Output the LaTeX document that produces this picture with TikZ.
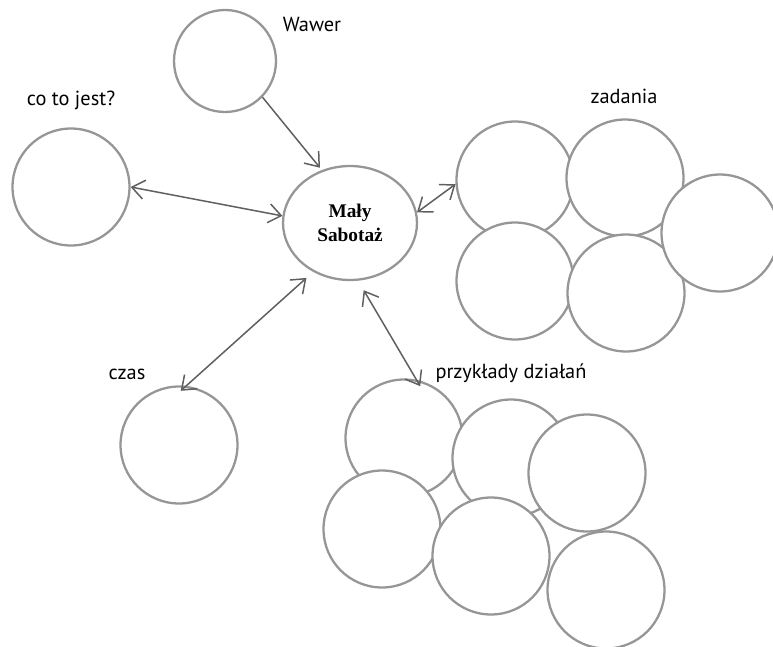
\documentclass[tikz,border=0pt]{standalone}
\usepackage{fontspec}
\setmainfont{PT Sans}
\newfontfamily\hubfont{Liberation Serif}
\usepackage{tikz}
\usetikzlibrary{arrows.meta,shapes.geometric}
\definecolor{ringgray}{RGB}{150,150,150}
\definecolor{linkgray}{RGB}{95,95,95}
\tikzset{
  bubble/.style={circle, draw=ringgray, line width=1.3pt, fill=white, minimum size=2.34cm, inner sep=0pt},
  hub/.style={ellipse, draw=ringgray, line width=1.3pt, fill=white, minimum width=2.68cm, minimum height=2.28cm, inner sep=0pt, align=center, font=\hubfont\bfseries\fontsize{11}{13.6}\selectfont},
  tag/.style={inner sep=0pt, font=\fontsize{11.6}{13}\selectfont},
  link/.style={draw=linkgray, line width=0.85pt, -{Straight Barb[length=2.5mm,width=3.8mm]}},
  twoway/.style={link, {Straight Barb[length=2.5mm,width=3.8mm]}-{Straight Barb[length=2.5mm,width=3.8mm]}}
}

\begin{document}
\begin{tikzpicture}[x=0.02cm,y=-0.02cm]
  \useasboundingbox (0,0) rectangle (773,646);

  % centre and single topics
  \node[hub] (hub) at (350,223) {Mały\\Sabotaż};
  \node[bubble, minimum size=2.04cm] (wawer) at (225,61) {};
  \node[tag] (wawerlbl) at (312,24) {Wawer};
  \node[bubble] (what) at (71,187) {};
  \node[tag] (whatlbl) at (71,100) {co to jest?};
  \node[bubble] (time) at (179,445) {};
  \node[tag] (timelbl) at (127,374) {czas};

  % zadania cluster
  \node[tag] (tasklbl) at (624,96) {zadania};
  \node[bubble] (z1) at (515,180) {};
  \node[bubble] (z2) at (625,178) {};
  \node[bubble] (z4) at (515,281) {};
  \node[bubble] (z5) at (626,293) {};
  \node[bubble] (z3) at (720,233) {};

  % przyklady cluster
  \node[tag] (examplelbl) at (511,373) {przykłady działań};
  \node[bubble] (p1) at (404,438) {};
  \node[bubble] (p2) at (511,458) {};
  \node[bubble] (p4) at (382,529) {};
  \node[bubble] (p5) at (491,556) {};
  \node[bubble] (p3) at (587,473) {};
  \node[bubble] (p6) at (606,590) {};

  % connectors
  \draw[link, shorten >=0.06cm] (wawer.-44) -- (hub.118);
  \draw[twoway] (what.0) -- (hub.174);
  \draw[twoway] (hub.9) -- (z1.184);
  \draw[twoway, shorten <=0.18cm, shorten >=-0.15cm] (hub.-127) -- (time.83);
  \draw[twoway, shorten <=0.22cm, shorten >=-0.15cm] (hub.-82) -- (p1.78);
\end{tikzpicture}
\end{document}
